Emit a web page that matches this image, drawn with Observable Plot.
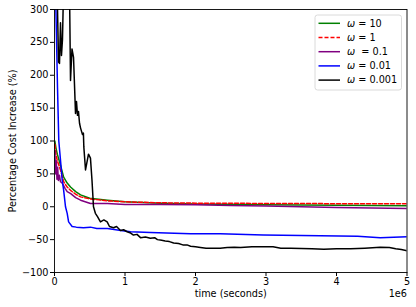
<!DOCTYPE html>
<html>
<head>
<meta charset="utf-8">
<script src="https://cdn.jsdelivr.net/npm/d3@7"></script>
<script src="https://cdn.jsdelivr.net/npm/@observablehq/plot@0.6"></script>
<style>
  html, body { margin: 0; padding: 0; background: #fff; }
  #chart { width: 416px; height: 307px; }
</style>
</head>
<body>
<div id="chart"></div>
<script>
// ---- data (time in units of 1e6 seconds, value in %) ----
const seriesNames = ["ω = 10", "ω = 1", "ω  = 0.1", "ω = 0.01", "ω = 0.001"];
const seriesColors = ["green", "red", "purple", "blue", "black"];
const seriesDash = [null, "4,2", null, null, null];

const tGreen = [0.005, 0.02, 0.04, 0.085, 0.13, 0.18, 0.227, 0.3, 0.37, 0.5, 0.75, 1.0, 1.5, 2.0, 3.0, 4.0, 5.0];
const vGreen = [100, 90, 80, 63, 45, 36, 30, 23, 18, 13, 10, 7.5, 5.5, 4, 3, 2.2, 1.5];

const tRed = [0.005, 0.02, 0.04, 0.085, 0.13, 0.18, 0.227, 0.3, 0.37, 0.5, 0.75, 1.0, 1.5, 2.0, 3.0, 4.0, 5.0];
const vRed = [95, 80, 70, 56, 38, 30, 25, 19, 15, 12, 9, 7.5, 6, 5.5, 5, 4.7, 4.5];

const tPurple = [0.005, 0.015, 0.025, 0.035, 0.045, 0.055, 0.07, 0.085, 0.11, 0.15, 0.18, 0.23, 0.3, 0.37, 0.51, 0.75, 1.0, 1.5, 2.0, 2.5, 3.0, 4.0, 5.0];
const vPurple = [85, 50, 70, 42, 60, 40, 48, 38, 36, 28, 23, 20, 14, 10, 5, 5, 3.6, 3.6, 3, 2, 1, -1, -2.5];

const tBlue = [0.0, 0.02, 0.043, 0.061, 0.085, 0.11, 0.13, 0.156, 0.18, 0.2, 0.25, 0.31, 0.41, 0.51, 0.6, 0.75, 0.94, 1.08, 1.36, 1.93, 2.35, 2.96, 3.77, 4.3, 4.62, 5.0];
const vBlue = [350, 300, 180, 100, 71, 40, 25, 0, -10, -23, -30, -31, -32, -31, -33, -33, -36, -38, -39, -41, -41, -43, -44, -45, -47, -45.5];

const tBlack = [0.005, 0.014, 0.043, 0.057, 0.071, 0.085, 0.099, 0.113, 0.128, 0.213, 0.227, 0.248, 0.27, 0.298, 0.312, 0.326, 0.34, 0.355, 0.369, 0.397, 0.41, 0.416, 0.44, 0.482, 0.51, 0.532, 0.553, 0.58, 0.61, 0.652, 0.7, 0.747, 0.78, 0.837, 0.88, 0.936, 0.98, 1.03, 1.08, 1.12, 1.17, 1.22, 1.29, 1.36, 1.42, 1.46, 1.52, 1.57, 1.63, 1.69, 1.76, 1.82, 1.88, 1.93, 2.0, 2.07, 2.15, 2.26, 2.35, 2.45, 2.55, 2.64, 2.8, 2.96, 3.1, 3.21, 3.35, 3.5, 3.65, 3.82, 4.0, 4.2, 4.4, 4.62, 4.75, 4.84, 4.92, 5.0];
const vBlack = [350, 350, 300, 220, 218, 280, 230, 254, 330, 330, 192, 240, 227, 142, 160, 139, 145, 127, 120, 110, 112, 91, 56, 80, 74, 40, 0, -10, -15, -23, -20, -23, -30, -32, -30, -36, -35, -38, -40, -43, -42, -47, -46, -48, -47, -50, -51, -52, -53, -55, -56, -58, -58, -60, -61, -62, -63, -63, -63, -62, -61.5, -62, -61, -61, -61, -63, -63, -63.5, -64, -64.5, -64, -64, -63, -61.5, -62, -64, -65, -67];

const xTicks = [0, 1, 2, 3, 4, 5];
const yTicks = [-100, -50, 0, 50, 100, 150, 200, 250, 300];
const xLabel = "time (seconds)";
const yLabel = "Percentage Cost Increase (%)";
const xOffsetLabel = "1e6";

// ---- build table ----
const allT = [tGreen, tRed, tPurple, tBlue, tBlack];
const allV = [vGreen, vRed, vPurple, vBlue, vBlack];
const rows = [];
allT.forEach((ts, s) => ts.forEach((t, i) => rows.push({series: seriesNames[s], t, v: allV[s][i]})));

const FONT = "DejaVu Sans, sans-serif";
const FS = 9.7;

const lineMarks = seriesNames.map((name, s) =>
  Plot.line(rows.filter(d => d.series === name), {
    x: "t", y: "v", stroke: seriesColors[s], strokeWidth: 1.5,
    strokeDasharray: seriesDash[s] || undefined, clip: true,
    strokeLinejoin: "round"
  })
);

const fmtY = d => (d < 0 ? "\u2212" + Math.abs(d) : String(d));

const chart = Plot.plot({
  width: 416,
  height: 307,
  marginLeft: 54,
  marginRight: 9.5,
  marginTop: 9,
  marginBottom: 35,
  style: {fontFamily: FONT, fontSize: FS + "px", background: "#fff", color: "black"},
  x: {domain: [0, 5], ticks: xTicks, tickFormat: d => String(d), tickSize: 4, tickPadding: 2, label: null},
  y: {domain: [-100, 300], ticks: yTicks, tickFormat: fmtY, tickSize: 4, tickPadding: 2, label: null},
  marks: [
    ...lineMarks,
    Plot.frame({stroke: "black", strokeWidth: 0.9}),
    Plot.text([xLabel], {frameAnchor: "bottom", textAnchor: "middle", dy: 24, fontSize: FS, fill: "black"}),
    Plot.text([xOffsetLabel], {frameAnchor: "bottom-right", textAnchor: "end", dy: 24, fontSize: FS, fill: "black"}),
    Plot.text([yLabel], {frameAnchor: "left", textAnchor: "middle", rotate: -90, dx: -42, fontSize: FS, fill: "black"})
  ]
});

document.getElementById("chart").appendChild(chart);

// ---- legend inside the plot (upper right) ----
const svg = d3.select(chart);
const boxRight = 416 - 9.5 - 5;
const boxLeft = 315;
const boxTop = 15;
const rowH = 14.2;
const boxH = rowH * seriesNames.length + 4;
const lg = svg.append("g").attr("text-anchor", "start");
lg.append("rect")
  .attr("x", boxLeft).attr("y", boxTop)
  .attr("width", boxRight - boxLeft).attr("height", boxH)
  .attr("rx", 2.5).attr("fill", "white").attr("fill-opacity", 0.8)
  .attr("stroke", "#d0d0d0").attr("stroke-width", 0.8);
seriesNames.forEach((name, i) => {
  const cy = boxTop + 8.3 + i * rowH;
  lg.append("line")
    .attr("x1", boxLeft + 3.5).attr("x2", boxLeft + 25)
    .attr("y1", cy).attr("y2", cy)
    .attr("stroke", seriesColors[i]).attr("stroke-width", 1.5)
    .attr("stroke-dasharray", seriesDash[i] || null);
  const txt = lg.append("text")
    .attr("x", boxLeft + 32).attr("y", cy)
    .attr("dy", "0.35em")
    .attr("text-anchor", "start")
    .attr("font-family", FONT).attr("font-size", FS + "px")
    .attr("fill", "black")
    .attr("xml:space", "preserve")
    .style("white-space", "pre");
  txt.append("tspan").attr("font-style", "italic").text("ω");
  txt.append("tspan").text(name.slice(1));
});
</script>
</body>
</html>
